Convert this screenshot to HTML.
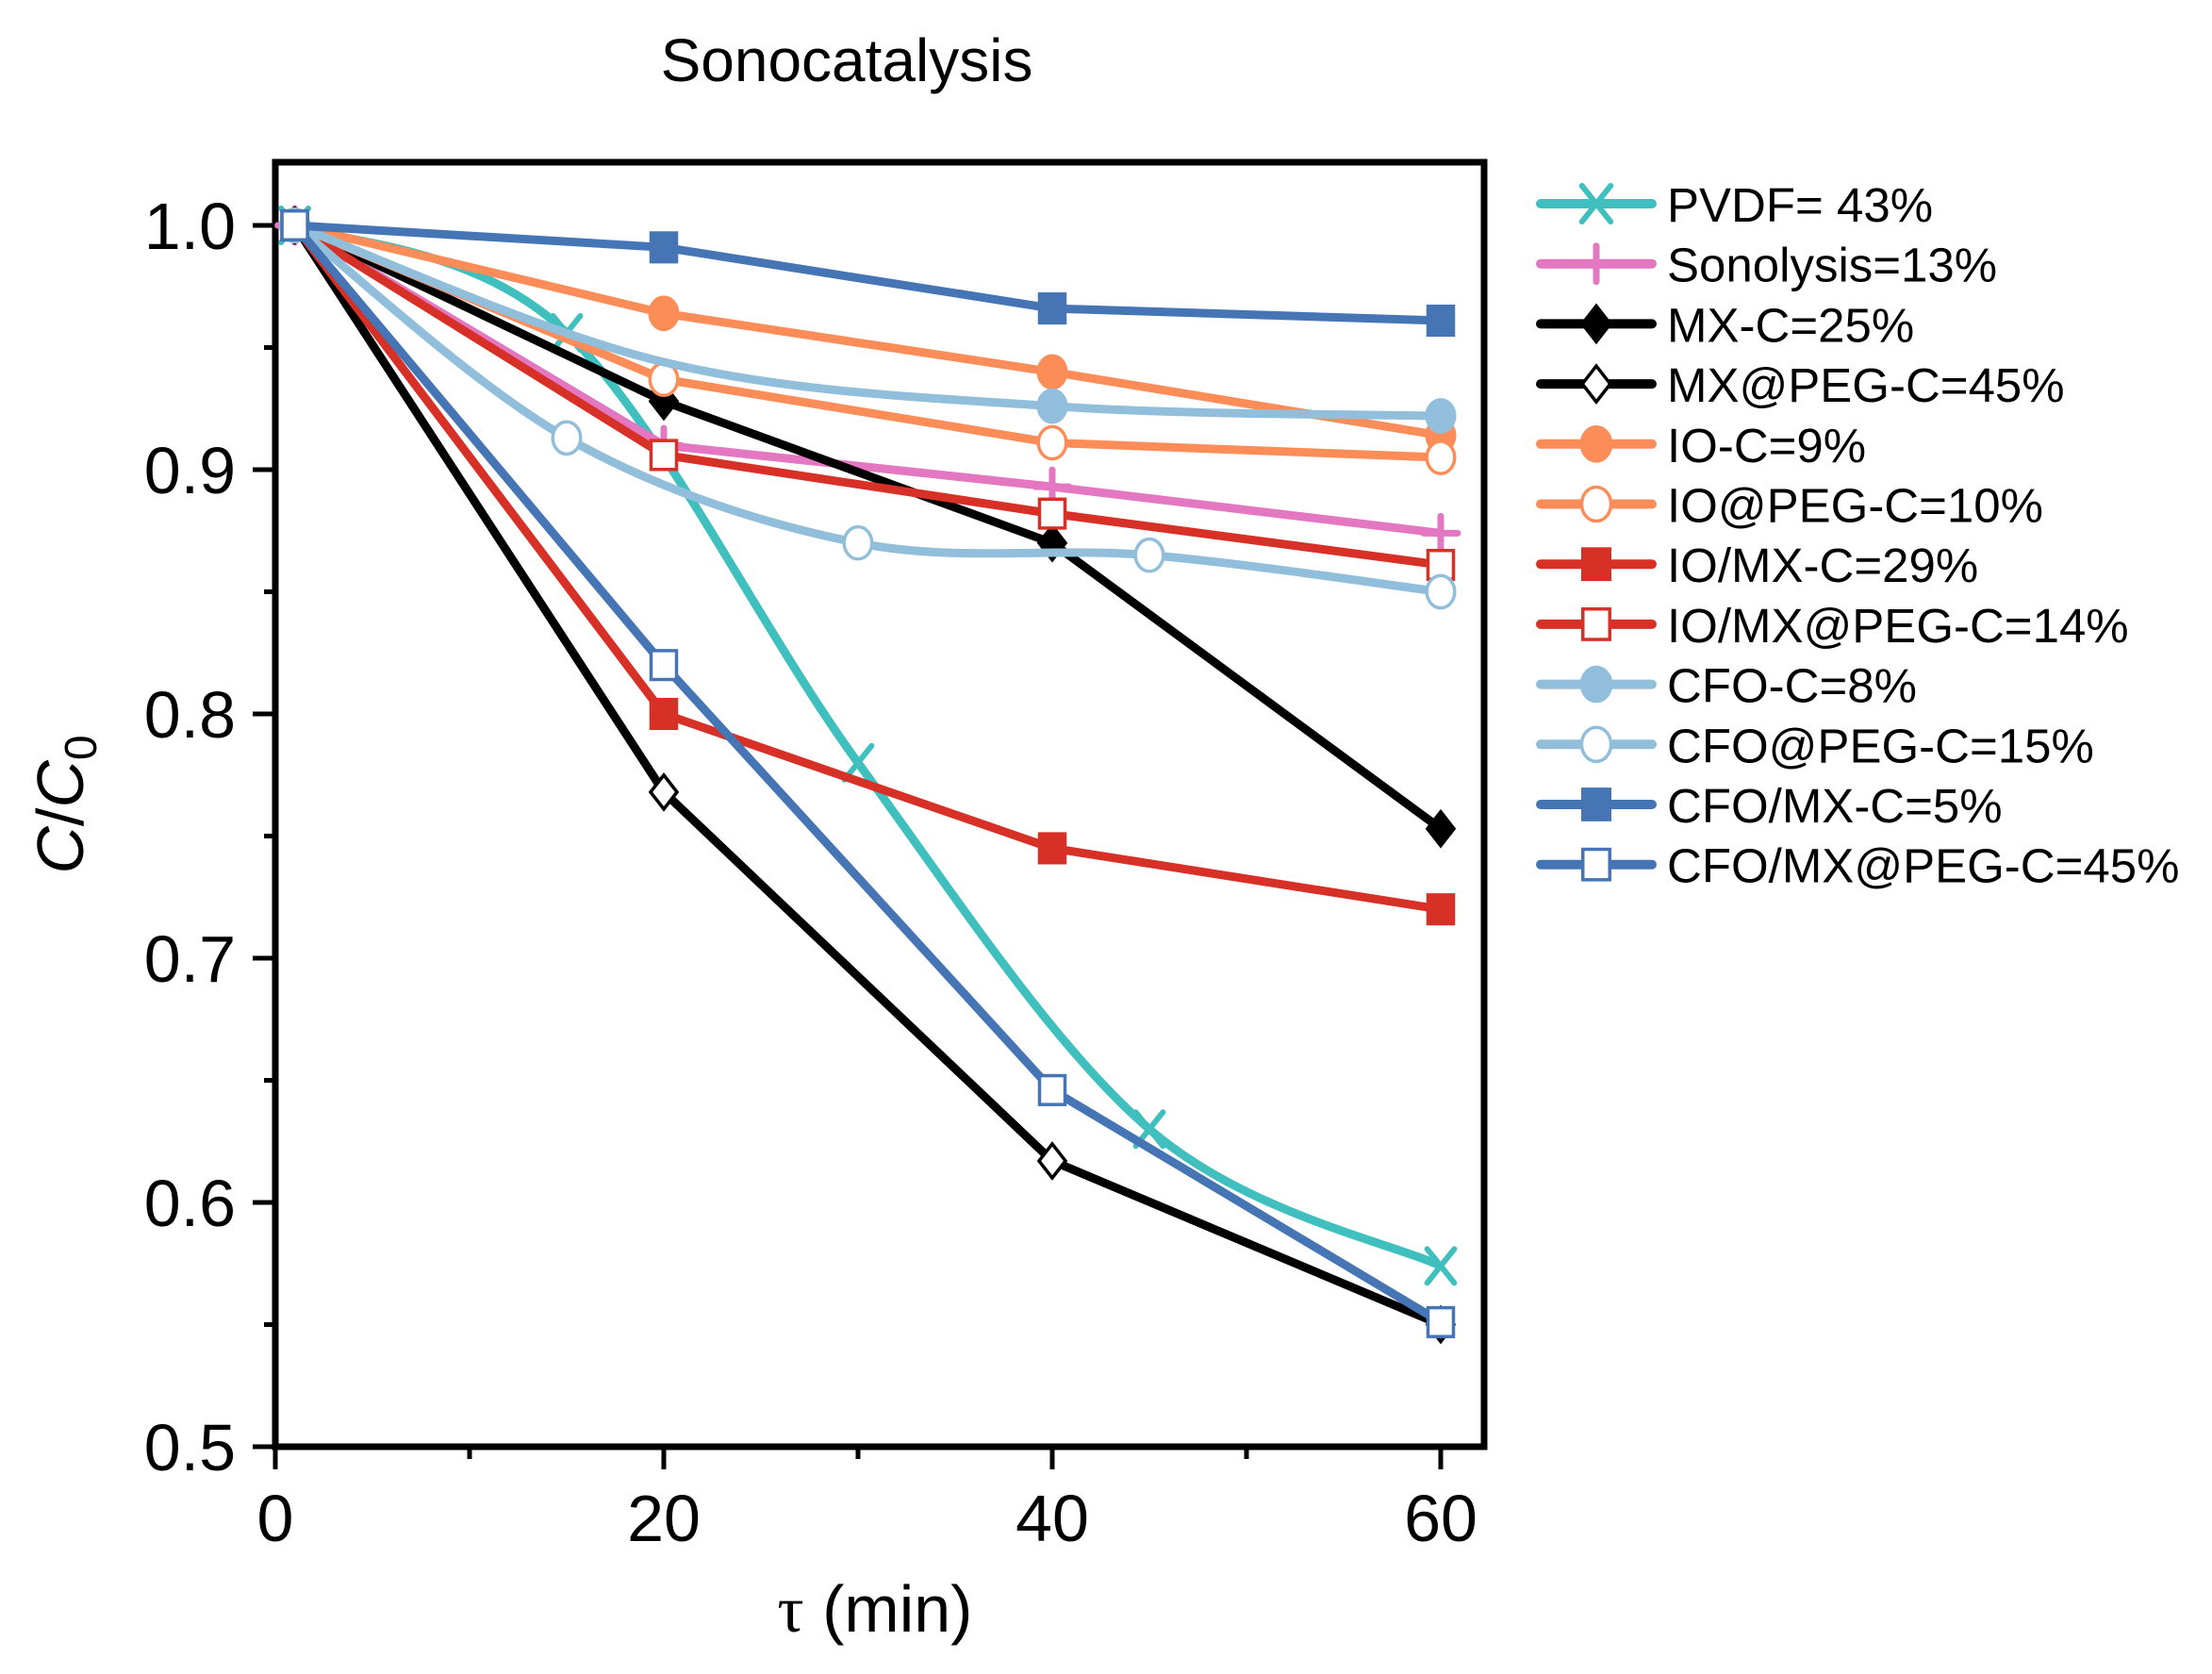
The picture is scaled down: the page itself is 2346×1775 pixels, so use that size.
<!DOCTYPE html>
<html><head><meta charset="utf-8"><style>
html,body{margin:0;padding:0;background:#fff;}
svg{display:block;font-family:"Liberation Sans",Arial,sans-serif;}
</style></head><body>
<svg id="chart" width="2346" height="1775" viewBox="0 0 2346 1775" xmlns="http://www.w3.org/2000/svg">
<text x="898" y="86" font-size="64" text-anchor="middle">Sonocatalysis</text>
<g id="axes"></g>
<g id="series"></g>
<g id="legend"></g>
<text x="928" y="1730" font-size="70" text-anchor="middle"><tspan font-family="Liberation Serif, serif">τ</tspan> (min)</text>
<text transform="translate(88,853) rotate(-90)" font-size="70" text-anchor="middle"><tspan font-style="italic">C</tspan>/<tspan font-style="italic">C</tspan><tspan font-size="48" dy="14">0</tspan></text>
</svg>
<script>
const xTicks = [0, 20, 40, 60];
const xMinorTicks = [10, 30, 50];
const yTicks = [0.5, 0.6, 0.7, 0.8, 0.9, 1.0];
const yTickLabels = ["0.5", "0.6", "0.7", "0.8", "0.9", "1.0"];
const yMinorTicks = [0.55, 0.65, 0.75, 0.85, 0.95];
const seriesNames = ["PVDF= 43%","Sonolysis=13%","MX-C=25%","MX@PEG-C=45%","IO-C=9%","IO@PEG-C=10%","IO/MX-C=29%","IO/MX@PEG-C=14%","CFO-C=8%"," CFO@PEG-C=15%","CFO/MX-C=5%","CFO/MX@PEG-C=45%"];
const pvdfX = [1, 15, 30, 45, 60];
const pvdfY = [1.0, 0.956, 0.78, 0.63, 0.574];
const sonoX = [1, 20, 40, 60];
const sonoY = [1.0, 0.910, 0.893, 0.874];
const mxcY = [1.0, 0.928, 0.870, 0.753];
const mxpegY = [1.0, 0.768, 0.617, 0.550];
const iocY = [1.0, 0.964, 0.940, 0.914];
const iopegY = [1.0, 0.937, 0.911, 0.905];
const iomxY = [1.0, 0.800, 0.745, 0.720];
const iomxpegY = [1.0, 0.906, 0.882, 0.861];
const cfocX = [1, 20, 40, 60];
const cfocY = [1.0, 0.944, 0.926, 0.922];
const cfopegX = [1, 15, 30, 45, 60];
const cfopegY = [1.0, 0.913, 0.870, 0.865, 0.850];
const cfomxY = [1.0, 0.991, 0.966, 0.961];
const cfomxpegY = [1.0, 0.820, 0.646, 0.551];

const NS = "http://www.w3.org/2000/svg";
const X0 = 292, XS = 20.6, Y1 = 239, YS = 2590;
function sx(v){ return X0 + v * XS; }
function sy(v){ return Y1 + (1 - v) * YS; }
function mk(tag, attrs, parent){ const e = document.createElementNS(NS, tag); for (const k in attrs) e.setAttribute(k, attrs[k]); parent.appendChild(e); return e; }

const axes = document.getElementById('axes');
const frame = mk('rect', {x:292, y:172, width:1282, height:1362, fill:'none', stroke:'#000', 'stroke-width':7}, axes);


xTicks.forEach(t => {
  const l = mk('line', {x1:sx(t), x2:sx(t), y1:1534, y2:1558, stroke:'#000', 'stroke-width':5}, axes);
  
  
  const tx = mk('text', {x:sx(t), y:1634, 'font-size':70, 'text-anchor':'middle'}, axes);
  tx.textContent = t;
  
  
});
xMinorTicks.forEach(t => {
  const l = mk('line', {x1:sx(t), x2:sx(t), y1:1534, y2:1547, stroke:'#000', 'stroke-width':5}, axes);
  
  
});
yTicks.forEach((t, i) => {
  const l = mk('line', {x1:268, x2:292, y1:sy(t), y2:sy(t), stroke:'#000', 'stroke-width':5}, axes);
  
  
  const tx = mk('text', {x:250, y:sy(t) + 25, 'font-size':70, 'text-anchor':'end'}, axes);
  tx.textContent = yTickLabels[i];
  
  
});
yMinorTicks.forEach(t => {
  const l = mk('line', {x1:280, x2:292, y1:sy(t), y2:sy(t), stroke:'#000', 'stroke-width':5}, axes);
  
  
});

const C = {teal:'#40bfbf', pink:'#e377c2', black:'#000', orange:'#fc8d59', red:'#d73027', lblue:'#91bfdb', blue:'#4575b4'};
const series = [
  {name:seriesNames[0], xs:pvdfX, ys:pvdfY, color:C.teal, m:'x', smooth:true},
  {name:seriesNames[1], xs:sonoX, ys:sonoY, color:C.pink, m:'plus'},
  {name:seriesNames[2], xs:sonoX, ys:mxcY, color:C.black, m:'diamond', fill:true},
  {name:seriesNames[3], xs:sonoX, ys:mxpegY, color:C.black, m:'diamond', fill:false},
  {name:seriesNames[4], xs:sonoX, ys:iocY, color:C.orange, m:'circle', fill:true},
  {name:seriesNames[5], xs:sonoX, ys:iopegY, color:C.orange, m:'circle', fill:false},
  {name:seriesNames[6], xs:sonoX, ys:iomxY, color:C.red, m:'square', fill:true},
  {name:seriesNames[7], xs:sonoX, ys:iomxpegY, color:C.red, m:'square', fill:false},
  {name:seriesNames[8], xs:cfocX, ys:cfocY, color:C.lblue, m:'circle', fill:true, smooth:true, skip:[1]},
  {name:seriesNames[9], xs:cfopegX, ys:cfopegY, color:C.lblue, m:'circle', fill:false, smooth:true},
  {name:seriesNames[10], xs:sonoX, ys:cfomxY, color:C.blue, m:'square', fill:true},
  {name:seriesNames[11], xs:sonoX, ys:cfomxpegY, color:C.blue, m:'square', fill:false}
];

function pathFor(pts, smooth){
  let d = 'M' + pts[0][0] + ',' + pts[0][1];
  if (!smooth) { for (let i = 1; i < pts.length; i++) d += 'L' + pts[i][0] + ',' + pts[i][1]; return d; }
  for (let i = 0; i < pts.length - 1; i++) {
    const p0 = pts[Math.max(0, i - 1)], p1 = pts[i], p2 = pts[i + 1], p3 = pts[Math.min(pts.length - 1, i + 2)];
    const c1 = [p1[0] + (p2[0] - p0[0]) / 6, p1[1] + (p2[1] - p0[1]) / 6];
    const c2 = [p2[0] - (p3[0] - p1[0]) / 6, p2[1] - (p3[1] - p1[1]) / 6];
    d += 'C' + c1[0] + ',' + c1[1] + ' ' + c2[0] + ',' + c2[1] + ' ' + p2[0] + ',' + p2[1];
  }
  return d;
}
function marker(g, type, cx, cy, color, fill, r){
  let e;
  if (type === 'x') {
    e = mk('path', {d:`M${cx-r*0.8},${cy-r}L${cx+r*0.8},${cy+r}M${cx-r*0.8},${cy+r}L${cx+r*0.8},${cy-r}`, stroke:color, 'stroke-width':6, 'stroke-linecap':'round', fill:'none'}, g);
  } else if (type === 'plus') {
    e = mk('path', {d:`M${cx-r},${cy}L${cx+r},${cy}M${cx},${cy-r}L${cx},${cy+r}`, stroke:color, 'stroke-width':7, 'stroke-linecap':'round', fill:'none'}, g);
  } else if (type === 'diamond') {
    e = mk('path', {d:`M${cx},${cy-r}L${cx+r*0.78},${cy}L${cx},${cy+r}L${cx-r*0.78},${cy}Z`, stroke:color, 'stroke-width':3.5, fill:fill ? color : '#fff'}, g);
  } else if (type === 'circle') {
    e = mk('ellipse', {cx:cx, cy:cy, rx:r*0.82, ry:r*0.95, stroke:color, 'stroke-width':3.5, fill:fill ? color : '#fff'}, g);
  } else {
    e = mk('rect', {x:cx - r*0.75, y:cy - r*0.85, width:r*1.5, height:r*1.7, stroke:color, 'stroke-width':3.5, fill:fill ? color : '#fff'}, g);
  }
  return e;
}

const sg = document.getElementById('series');
const lg = document.getElementById('legend');
series.forEach((s, si) => {
  const g = mk('g', {}, sg);
  
  
  const pts = s.xs.map((x, i) => [sx(x), sy(s.ys[i])]);
  const p = mk('path', {d:pathFor(pts, s.smooth), fill:'none', stroke:s.color, 'stroke-width':9, 'stroke-linejoin':'round'}, g);
  
  
  pts.forEach((pt, i) => {
    if (s.skip && s.skip.includes(i)) return;
    const m = marker(g, s.m, pt[0], pt[1], s.color, s.fill, 18);
    
    
  });
  const ly = 216 + si * 63.7;
  const le = mk('g', {}, lg);
  
  
  mk('line', {x1:1634, x2:1752, y1:ly, y2:ly, stroke:s.color, 'stroke-width':10, 'stroke-linecap':'round'}, le);
  marker(le, s.m, 1693, ly, s.color, s.fill, 19);
  const t = mk('text', {x:1768, y:ly + 19, 'font-size':51, 'xml:space':'preserve'}, le);
  t.textContent = s.name;
});
</script>
</body></html>
